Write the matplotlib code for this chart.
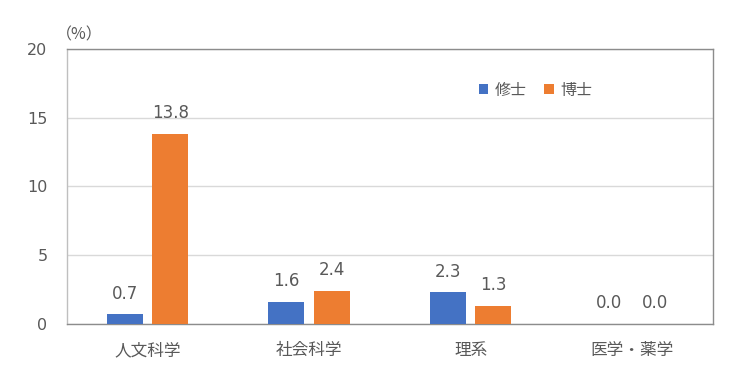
import numpy as np
import matplotlib.pyplot as plt

plt.rcParams['font.family'] = ['DejaVu Sans', 'Noto Sans CJK JP']

CATEGORIES = ['人文科学', '社会科学', '理系', '医学・薬学']
MASTER = [0.7, 1.6, 2.3, 0.0]
DOCTOR = [13.8, 2.4, 1.3, 0.0]
SERIES = ['修士', '博士']

BLUE = '#4472C4'
ORANGE = '#ED7D31'
TEXT = '#595959'


def main():
    fig = plt.figure(figsize=(7.5, 3.78), dpi=100)
    ax = fig.add_axes([0.0893, 0.1429, 0.8613, 0.7275])

    x = np.arange(len(CATEGORIES))
    w = 0.223
    off = 0.141
    b1 = ax.bar(x - off, MASTER, w, color=BLUE, label=SERIES[0], zorder=3)
    b2 = ax.bar(x + off, DOCTOR, w, color=ORANGE, label=SERIES[1], zorder=3)

    for bars, vals in ((b1, MASTER), (b2, DOCTOR)):
        for b, v in zip(bars, vals):
            ax.annotate('%.1f' % v, (b.get_x() + b.get_width() / 2, v),
                        xytext=(0, 8.5), textcoords='offset points',
                        ha='center', va='bottom', fontsize=12, color=TEXT)

    ax.set_xlim(-0.5, len(CATEGORIES) - 0.5)
    ax.set_ylim(0, 20)
    ax.set_yticks([0, 5, 10, 15, 20])
    ax.set_xticks(x)
    ax.set_xticklabels(CATEGORIES, family=['Noto Sans CJK JP'], fontsize=12)
    ax.tick_params(axis='both', length=0, colors=TEXT)
    ax.tick_params(axis='y', labelsize=11.5, pad=14)
    ax.tick_params(axis='x', pad=13)
    ax.yaxis.grid(True, color='#D9D9D9', linewidth=1, zorder=0)
    for s in ax.spines.values():
        s.set_color('#8C8C8C')
        s.set_linewidth(1)
    ax.spines['left'].set_color('#BFBFBF')

    ax.text(-0.017, 1.02, '（%）', transform=ax.transAxes, fontsize=11.5,
            color=TEXT, ha='left', va='bottom', family=['Noto Sans CJK JP'])

    leg = ax.legend(loc='center left', bbox_to_anchor=(0.615, 0.85), ncol=2,
                    frameon=False, handlelength=0.6,
                    handleheight=0.6, handletextpad=0.4, columnspacing=1.1,
                    prop={'family': 'Noto Sans CJK JP', 'size': 11.5})
    for t in leg.get_texts():
        t.set_color(TEXT)

    plt.savefig('out.png', dpi=100)
    plt.close()


if __name__ == '__main__':
    main()
